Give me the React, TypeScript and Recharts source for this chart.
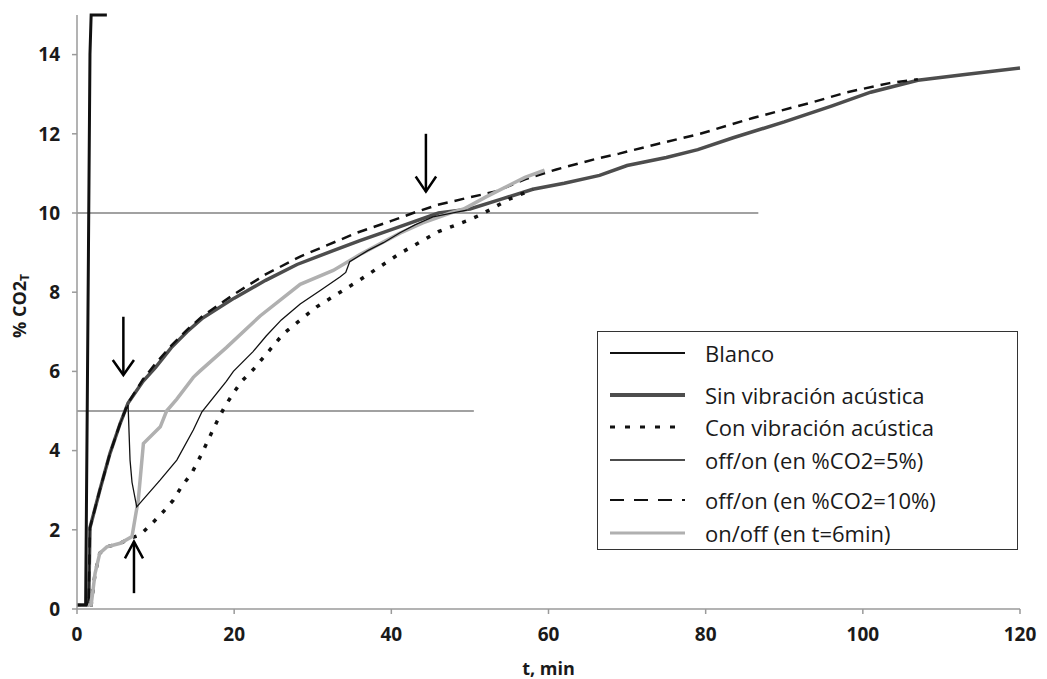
import React from 'react';
import { LineChart, Line, XAxis, YAxis, ReferenceLine, Legend, Label } from 'recharts';

const xTicks = [0, 20, 40, 60, 80, 100, 120];
const yTicks = [0, 2, 4, 6, 8, 10, 12, 14];

// [t (min), %CO2]
const blanco = [[0, 0.1], [1.1, 0.1], [1.3, 5], [1.65, 14], [1.8, 15], [3.8, 15]];

const sinVibracion = [
  [0, 0.1], [1.3, 0.1], [1.5, 0.3], [1.65, 2.05], [2.9, 3.0], [4.2, 3.93], [5.5, 4.69], [6.3, 5.1],
  [6.5, 5.2], [8.4, 5.75], [10, 6.1], [12, 6.6], [14, 7.0], [16, 7.35], [20, 7.85], [24, 8.3],
  [28, 8.7], [32.6, 9.05], [36, 9.3], [41, 9.65], [46, 10.0], [50, 10.1], [54, 10.35], [58, 10.6],
  [62, 10.75], [66.5, 10.95], [70, 11.2], [75, 11.4], [79, 11.6], [83.5, 11.9], [90, 12.3],
  [96, 12.7], [101, 13.05], [107, 13.35], [113, 13.5], [120, 13.66],
];

const conVibracion = [
  [0, 0.1], [1.8, 0.1], [2.3, 0.9], [2.9, 1.41], [3.8, 1.57], [5.5, 1.66], [7, 1.8], [8, 1.87],
  [9.5, 2.15], [11, 2.46], [12.25, 2.75], [13.3, 3.09], [14.6, 3.43], [15.9, 3.93], [16.7, 4.27],
  [17.8, 4.73], [18.8, 5.11], [19.9, 5.45], [20.9, 5.74], [22.4, 6.04], [26.3, 6.96], [30.5, 7.63],
  [36, 8.31], [41.1, 8.98], [46, 9.53], [49.6, 9.8], [51.3, 9.95], [55, 10.35], [58, 10.6],
];

const offOn5 = [
  [0, 0.1], [1.3, 0.1], [1.5, 0.3], [1.65, 2.05], [2.9, 3.0], [4.2, 3.93], [5.5, 4.69], [6.5, 5.15],
  [6.75, 3.76], [7.0, 3.2], [7.6, 2.58], [10.6, 3.26], [12.7, 3.76], [14.8, 4.52], [15.9, 4.98],
  [19, 5.75], [19.9, 6.0], [22.4, 6.5], [24.1, 6.9], [26, 7.3], [28.4, 7.7], [31, 8.05], [33.5, 8.39],
  [34.2, 8.5], [34.7, 8.77], [37, 9.05], [39, 9.25], [41.1, 9.5], [43, 9.7], [45.3, 9.9], [49.6, 10.07],
];

const offOn10 = [
  [0, 0.1], [1.3, 0.1], [1.5, 0.3], [1.65, 2.05], [2.9, 3.0], [4.2, 3.93], [5.5, 4.69], [6.3, 5.1],
  [6.5, 5.2], [8.4, 5.8], [10, 6.2], [12, 6.65], [14, 7.05], [16, 7.4], [20, 7.95], [24, 8.45],
  [28.4, 8.9], [32, 9.2], [35.6, 9.5], [40, 9.8], [43.2, 10.03], [45.8, 10.2], [49, 10.35],
  [53.4, 10.55], [57, 10.85], [61, 11.1], [66.5, 11.39], [69, 11.5], [74, 11.75], [79.3, 12.0],
  [86, 12.4], [93.3, 12.78], [98, 13.05], [103.4, 13.28], [107, 13.38],
];

const onOff6 = [
  [0, 0.1], [1.8, 0.1], [2.3, 0.9], [2.9, 1.41], [3.8, 1.57], [5.5, 1.66], [7.0, 1.83], [7.5, 2.42],
  [7.8, 2.75], [8.45, 4.18], [10.6, 4.6], [11.4, 5.0], [12.7, 5.3], [14.8, 5.85], [15.6, 6.0],
  [19, 6.6], [23.3, 7.4], [28.4, 8.2], [32.6, 8.55], [36, 8.95], [41.1, 9.49], [44, 9.75], [47.5, 10.0],
  [49.2, 10.1], [52, 10.4], [55, 10.7], [57, 10.9], [59.5, 11.08],
];

// threshold lines: [value, end t]
const thresholds = [[10, 86.7], [5, 50.5]];

// annotation arrows: shaft and open head, in data units
const arrowShafts = [
  [[5.9, 7.38], [5.9, 5.91]],
  [[7.25, 0.4], [7.25, 1.7]],
  [[44.4, 12.0], [44.4, 10.54]],
];
const arrowHeads = [
  [[4.55, 6.29], [5.9, 5.91], [7.25, 6.29]],
  [[6.1, 1.28], [7.25, 1.7], [8.4, 1.28]],
  [[43.1, 10.92], [44.4, 10.54], [45.7, 10.92]],
];

const toPts = (arr: number[][]) => arr.map(([t, v]) => ({ t, v }));

const font = "'Open Sans', sans-serif";

const series = [
  { name: 'Blanco', data: blanco, stroke: '#111', width: 3, dash: undefined as string | undefined, lw: 2 },
  { name: 'Sin vibración acústica', data: sinVibracion, stroke: '#4d4d4d', width: 3.5, dash: undefined, lw: 4 },
  { name: 'Con vibración acústica', data: conVibracion, stroke: '#111', width: 3.5, dash: '4 9', lw: 3 },
  { name: 'off/on (en %CO2=5%)', data: offOn5, stroke: '#111', width: 1.3, dash: undefined, lw: 1.5 },
  { name: 'off/on (en %CO2=10%)', data: offOn10, stroke: '#111', width: 2.5, dash: '10 7', lw: 2 },
  { name: 'on/off (en t=6min)', data: onOff6, stroke: '#b0b0b0', width: 3.5, dash: undefined, lw: 3 },
];

const drawOrder = [1, 4, 2, 5, 3, 0];
const legendRowY = [22, 64, 96, 129, 169, 202];

const LegendBox = () => (
  <div style={{ width: 421, height: 219, border: '1.5px solid #333', boxSizing: 'border-box', background: '#fff', position: 'relative' }}>
    <svg width={421} height={219} style={{ position: 'absolute', left: -1.5, top: -1.5 }}>
      {series.map((s, i) => (
        <g key={s.name}>
          <line x1={13} x2={88} y1={legendRowY[i]} y2={legendRowY[i]} stroke={s.stroke} strokeWidth={s.lw} strokeDasharray={s.dash ? (i === 2 ? '5 10' : '14 10') : undefined} />
          <text x={108} y={legendRowY[i]} dominantBaseline="central" fontFamily={font} fontSize={22} fill="#1a1a1a">{s.name}</text>
        </g>
      ))}
    </svg>
  </div>
);

const YLabel = (props: any) => {
  const vb = props.viewBox || { x: 17, y: 15, width: 60, height: 594 };
  const cx = vb.x + 2;
  const cy = vb.y + vb.height / 2 - 6;
  return (
    <text x={cx} y={cy} transform={`rotate(-90 ${cx} ${cy})`} textAnchor="middle" dominantBaseline="central" fontFamily={font} fontWeight={700} fontSize={18} fill="#1a1a1a">
      % CO2<tspan fontSize={12} dy={5}>T</tspan>
    </text>
  );
};

export default function App() {
  const tick = { fill: '#1a1a1a', fontSize: 19, fontWeight: 700, fontFamily: font };
  return (
    <div style={{ position: 'absolute', left: 0, top: 0, background: '#fff' }}>
      <LineChart width={1047} height={679} margin={{ top: 15, right: 27, bottom: 4, left: 17 }}>
        <XAxis type="number" dataKey="t" domain={[0, 120]} ticks={xTicks} stroke="#9a9a9a" strokeWidth={1.5} tickSize={5} tickMargin={14} tick={tick} height={66}>
          <Label value="t, min" position="insideBottom" offset={0} style={{ fontFamily: font, fontWeight: 700, fontSize: 18, fill: '#1a1a1a' }} />
        </XAxis>
        <YAxis type="number" dataKey="v" domain={[0, 15]} ticks={yTicks} stroke="#9a9a9a" strokeWidth={1.5} tickSize={5} tickMargin={12} tick={tick} width={60} label={<YLabel />} />
        {thresholds.map(([v, end]) => (
          <ReferenceLine key={v} segment={[{ x: 0, y: v }, { x: end, y: v }]} stroke="#444" strokeWidth={1.2} />
        ))}
        {drawOrder.map((i) => {
          const s = series[i];
          return (
            <Line key={s.name} data={toPts(s.data)} dataKey="v" type="linear" stroke={s.stroke} strokeWidth={s.width} strokeDasharray={s.dash} dot={false} activeDot={false} isAnimationActive={false} legendType="none" />
          );
        })}
        {arrowShafts.map((a, i) => (
          <Line key={'shaft' + i} data={toPts(a)} dataKey="v" type="linear" stroke="#000" strokeWidth={2.5} dot={false} activeDot={false} isAnimationActive={false} legendType="none" />
        ))}
        {arrowHeads.map((a, i) => (
          <Line key={'head' + i} data={toPts(a)} dataKey="v" type="linear" stroke="#000" strokeWidth={2.5} dot={false} activeDot={false} isAnimationActive={false} legendType="none" />
        ))}
        <Legend layout="vertical" align="center" verticalAlign="middle" content={() => <LegendBox />} wrapperStyle={{ position: 'absolute', left: 597, top: 331, width: 421, height: 219 }} />
      </LineChart>
    </div>
  );
}
